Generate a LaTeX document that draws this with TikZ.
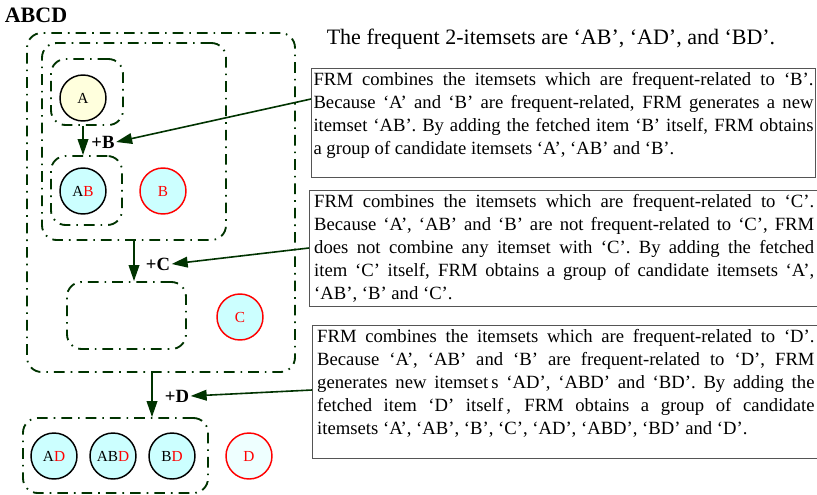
\documentclass[tikz,border=0pt]{standalone}
\usepackage{fontspec}
\setmainfont{Liberation Serif}
\usetikzlibrary{arrows.meta,fit,calc}

\tikzset{
  cluster/.style={draw={rgb, 255:red, 0; green, 51; blue, 0}, line width=1.4pt, rounded corners=11pt, dash pattern=on 8pt off 4.5pt on 1.2pt off 4.5pt, inner sep=0pt},
  item/.style={circle, draw=black, line width=1.1pt, fill={rgb, 255:red, 204; green, 255; blue, 255}, minimum size=34.5pt, inner sep=0pt, font=\fontsize{11.5}{13}\selectfont},
  fetched/.style={item, draw=red, text=red},
  flow/.style={color={rgb, 255:red, 0; green, 51; blue, 0}, line width=1.2pt, -{Triangle[length=12pt,width=8pt]}},
  plus/.style={font=\fontsize{14}{16}\selectfont\bfseries, inner sep=1pt},
  note/.style={draw={rgb, 255:red, 85; green, 85; blue, 85}, line width=0.8pt, anchor=north west, text width=375pt, align=justify, inner xsep=1.5pt, inner ysep=3pt, font=\fontsize{14}{17.25}\selectfont},
}

\begin{document}
\begin{tikzpicture}[x=0.75pt,y=0.75pt,yscale=-1,xscale=1]
\useasboundingbox (0,0) rectangle (817,494);

% Text Node
\node [font=\fontsize{16.5}{18}\selectfont\bfseries] (title) at (36,15) {ABCD};
% Text Node
\node [font=\fontsize{16.5}{18}\selectfont] (summary) at (551,39) {The frequent 2-itemsets are ‘AB’, ‘AD’, and ‘BD’.};

%Shape: Circle
\node [item, fill={rgb, 255:red, 255; green, 255; blue, 221}] (a) at (83,98) {A};
\node [item] (ab) at (83,191) {A\textcolor{red}{B}};
\node [fetched] (b) at (163,191) {B};
\node [fetched] (c) at (240,317) {C};
\node [item] (ad) at (54,456) {A\textcolor{red}{D}};
\node [item] (abd) at (113,456) {AB\textcolor{red}{D}};
\node [item] (bd) at (172,456) {B\textcolor{red}{D}};
\node [fetched, fill={rgb, 255:red, 238; green, 255; blue, 255}] (d) at (249,456) {D};

%Shape: Cluster
\node [cluster, fit={(27,33) (295,372)}] (outer) {};
\node [cluster, fit={(42,43) (226,240)}] (grpAB) {};
\node [cluster, fit={(51,59) (123,125)}] (grpA) {};
\node [cluster, fit={(51,156) (122,225)}] (grpB) {};
\node [cluster, fit={(67,282) (186,349)}] (grpC) {};
\node [cluster, fit={(23,418) (208,493)}] (grpD) {};

% Text Node
\node [plus] (plusB) at (103,142) {+B};
\node [plus] (plusC) at (158,264) {+C};
\node [plus] (plusD) at (177,396) {+D};

%Straight Lines
\draw [flow] (grpA.south -| a) -- (grpB.north -| a);
\draw [flow] (grpAB.south) -- (grpAB.south |- grpC.north);
\draw [flow] ($(outer.south)+(-9,0)$) -- ($(outer.south |- grpD.north)+(-9,0)$);

% Text Node
\node [note] (noteB) at (311,68) {FRM combines the itemsets which are frequent-related to ‘B’.\linebreak Because ‘A’ and ‘B’ are frequent-related, FRM generates a new\linebreak itemset ‘AB’. By adding the fetched item ‘B’ itself, FRM obtains\linebreak a group of candidate itemsets ‘A’, ‘AB’ and ‘B’.\par\kern11pt};
\node [note, inner xsep=3.5pt] (noteC) at (309,190) {FRM combines the itemsets which are frequent-related to ‘C’.\linebreak Because ‘A’, ‘AB’ and ‘B’ are not frequent-related to ‘C’, FRM\linebreak does not combine any itemset with ‘C’. By adding the fetched\linebreak item ‘C’ itself, FRM obtains a group of candidate itemsets ‘A’,\linebreak ‘AB’, ‘B’ and ‘C’.};
\node [note, inner xsep=3.5pt, text width=373pt] (noteD) at (312,325) {FRM combines the itemsets which are frequent-related to ‘D’.\linebreak Because ‘A’, ‘AB’ and ‘B’ are frequent-related to ‘D’, FRM\linebreak generates new itemset\,s ‘AD’, ‘ABD’ and ‘BD’. By adding the\linebreak fetched item ‘D’ itself\,, FRM obtains a group of candidate\linebreak itemsets ‘A’, ‘AB’, ‘B’, ‘C’, ‘AD’, ‘ABD’, ‘BD’ and ‘D’.\par\kern13pt};

%Straight Lines
\draw [flow] ($(noteB.north west)+(0,31)$) -- (plusB.east);
\draw [flow] ($(noteC.north west)+(0,58)$) -- (plusC.east);
\draw [flow] ($(noteD.north west)+(0,65)$) -- (plusD.east);

\end{tikzpicture}
\end{document}
